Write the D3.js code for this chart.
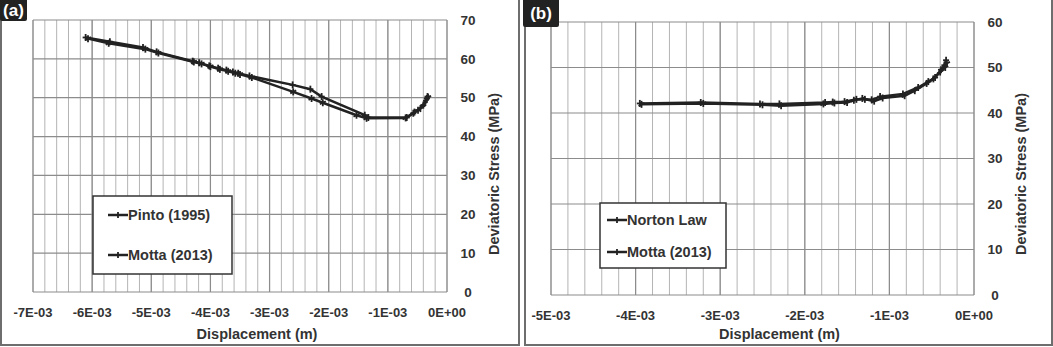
<!DOCTYPE html>
<html>
<head>
<meta charset="utf-8">
<title>Deviatoric stress vs displacement</title>
<script src="https://d3js.org/d3.v7.min.js"></script>
<style>
	body { margin: 0; background: #fff; }
	text { font-family: 'Liberation Sans', Arial, sans-serif; font-weight: bold; fill: #333; }
	.grid-minor { stroke: #b4b4b4; stroke-width: 1; }
	.grid-major { stroke: #8c8c8c; stroke-width: 1.2; }
	.series { fill: none; stroke: #222; stroke-width: 2.5; }
	.mark { stroke: #222; stroke-width: 1.8; }
</style>
</head>
<body>
<script>
	// panel (a): displacement in 1E-03 m, stress in MPa
	var pintoX = [-6.11,-5.70,-5.14,-4.91,-4.30,-4.19,-4.02,-3.87,-3.73,-3.62,-3.53,-3.34,-2.61,-2.31,-2.12,-1.39,-1.33,-0.68,-0.57,-0.49,-0.40,-0.34,-0.33];
	var pintoY = [65.5,64.4,62.9,61.8,59.4,59.0,58.2,57.6,57.1,56.6,56.3,55.6,53.3,52.2,50.3,45.5,44.9,44.9,46.0,46.8,48.1,49.8,50.3];
	var mottaAX = [-6.07,-5.72,-5.10,-4.88,-4.28,-4.15,-4.00,-3.84,-3.70,-3.58,-3.50,-3.30,-2.60,-2.29,-2.10,-1.53,-1.36,-0.70,-0.55,-0.45,-0.38,-0.35,-0.32];
	var mottaAY = [65.2,64.0,62.5,61.5,59.2,58.7,58.0,57.3,56.8,56.3,56.0,55.2,51.5,49.8,48.7,45.5,44.7,44.8,46.3,47.2,48.5,49.5,50.1];

	// panel (b)
	var nortonX = [-3.95,-3.23,-2.53,-2.30,-1.76,-1.67,-1.53,-1.39,-1.29,-1.21,-1.11,-0.84,-0.66,-0.54,-0.46,-0.39,-0.35,-0.33];
	var nortonY = [42.1,42.3,42.0,42.0,42.3,42.4,42.5,43.0,43.0,42.9,43.6,44.2,45.6,46.9,47.8,49.5,50.5,51.6];
	var mottaBX = [-3.93,-3.20,-2.50,-2.28,-1.78,-1.65,-1.50,-1.42,-1.32,-1.18,-1.08,-0.82,-0.70,-0.56,-0.48,-0.40,-0.34,-0.32];
	var mottaBY = [41.9,42.1,41.8,41.6,42.0,42.2,42.3,42.8,43.2,42.6,43.3,43.8,44.9,46.5,47.5,49.0,50.0,50.9];

	var xTicksA = [-7,-6,-5,-4,-3,-2,-1,0];
	var xLabelsA = ["-7E-03","-6E-03","-5E-03","-4E-03","-3E-03","-2E-03","-1E-03","0E+00"];
	var yTicksA = [0,10,20,30,40,50,60,70];
	var xTicksB = [-5,-4,-3,-2,-1,0];
	var xLabelsB = ["-5E-03","-4E-03","-3E-03","-2E-03","-1E-03","0E+00"];
	var yTicksB = [0,10,20,30,40,50,60];

	var svg = d3.select("body").append("svg")
		.attr("width", 1053)
		.attr("height", 347);

	function zip(xs, ys) {
		return xs.map(function(d, i) { return [d, ys[i]]; });
	}

	function drawPanel(p) {
		var x = d3.scaleLinear().domain(p.xDomain).range([p.left, p.right]);
		var y = d3.scaleLinear().domain(p.yDomain).range([p.bottom, p.top]);
		var g = svg.append("g");

		// panel frame
		g.append("rect")
			.attr("x", p.frame[0]).attr("y", p.frame[1])
			.attr("width", p.frame[2]).attr("height", p.frame[3])
			.attr("fill", "none").attr("stroke", "#6e6e6e").attr("stroke-width", 2);

		// minor vertical grid (every 2E-04)
		var minor = d3.range(p.xDomain[0], p.xDomain[1] + 0.001, 0.2);
		g.append("g").selectAll("line").data(minor).enter().append("line")
			.attr("class", "grid-minor")
			.attr("x1", function(d) { return x(d); }).attr("x2", function(d) { return x(d); })
			.attr("y1", p.top).attr("y2", p.bottom);

		g.append("g").selectAll("line").data(p.xTicks).enter().append("line")
			.attr("class", "grid-major")
			.attr("x1", function(d) { return x(d); }).attr("x2", function(d) { return x(d); })
			.attr("y1", p.top).attr("y2", p.bottom);

		g.append("g").selectAll("line").data(p.yTicks).enter().append("line")
			.attr("class", "grid-major")
			.attr("x1", p.left).attr("x2", p.right)
			.attr("y1", function(d) { return y(d); }).attr("y2", function(d) { return y(d); });

		// x tick labels
		g.append("g").selectAll("text").data(p.xTicks).enter().append("text")
			.attr("x", function(d) { return x(d); })
			.attr("y", p.bottom + 25)
			.attr("text-anchor", "middle")
			.style("font-size", "13px")
			.text(function(d, i) { return p.xLabels[i]; });

		// y tick labels on the right
		g.append("g").selectAll("text").data(p.yTicks).enter().append("text")
			.attr("x", p.right + 21)
			.attr("y", function(d) { return y(d); })
			.attr("dy", "0.35em")
			.attr("text-anchor", "middle")
			.style("font-size", "13.5px")
			.text(function(d) { return d; });

		g.append("text")
			.attr("x", (p.left + p.right) / 2 + 17)
			.attr("y", 339)
			.attr("text-anchor", "middle")
			.style("font-size", "14.5px")
			.text("Displacement (m)");

		g.append("text")
			.attr("transform", "translate(" + (p.right + 52) + "," + 174 + ") rotate(-90)")
			.attr("text-anchor", "middle")
			.style("font-size", "14.5px")
			.text("Deviatoric Stress (MPa)");

		// series
		var line = d3.line().x(function(d) { return x(d[0]); }).y(function(d) { return y(d[1]); });
		p.series.forEach(function(s) {
			var pts = zip(s.x, s.y);
			g.append("path").attr("class", "series").attr("d", line(pts));
			var m = g.append("g").selectAll("g").data(pts).enter().append("g")
				.attr("transform", function(d) { return "translate(" + x(d[0]) + "," + y(d[1]) + ")"; });
			m.append("line").attr("class", "mark").attr("x1", 0).attr("x2", 0).attr("y1", -3.5).attr("y2", 3.5);
			m.append("line").attr("class", "mark").attr("x1", -3).attr("x2", 3).attr("y1", s.tilt).attr("y2", -s.tilt);
		});

		// legend
		var L = p.legend;
		g.append("rect")
			.attr("x", L.x).attr("y", L.y).attr("width", L.w).attr("height", L.h)
			.attr("fill", "#fff").attr("stroke", "#333").attr("stroke-width", 1.5);
		p.series.forEach(function(s, i) {
			var ly = L.rows[i];
			g.append("line").attr("class", "series")
				.attr("x1", L.lx).attr("x2", L.lx + 20).attr("y1", ly).attr("y2", ly);
			g.append("line").attr("class", "mark")
				.attr("x1", L.lx + 10).attr("x2", L.lx + 10).attr("y1", ly - 3).attr("y2", ly + 3);
			g.append("text")
				.attr("x", L.lx + 20).attr("y", ly).attr("dy", "0.36em")
				.style("font-size", "14.5px")
				.text(s.name);
		});

		// panel label
		g.append("rect")
			.attr("x", p.tag[0]).attr("y", p.tag[1]).attr("width", p.tag[2]).attr("height", p.tag[3])
			.attr("rx", 2).attr("fill", "#222");
		g.append("text")
			.attr("x", p.tag[0] + p.tag[2] / 2).attr("y", p.tag[1] + p.tag[3] / 2)
			.attr("dy", "0.36em").attr("text-anchor", "middle")
			.style("font-size", "17px").style("fill", "#fff")
			.text(p.label);
	}

	drawPanel({
		label: "(a)",
		tag: [0, -2, 27, 23],
		frame: [1, -2, 518, 347],
		left: 33, right: 447, top: 20, bottom: 292,
		xDomain: [-7, 0], yDomain: [0, 70],
		xTicks: xTicksA, xLabels: xLabelsA, yTicks: yTicksA,
		series: [
			{ name: "Pinto (1995)", x: pintoX, y: pintoY, tilt: 0 },
			{ name: "Motta (2013)", x: mottaAX, y: mottaAY, tilt: 1.5 }
		],
		legend: { x: 93, y: 196, w: 139, h: 78, lx: 108, rows: [215, 255] }
	});

	drawPanel({
		label: "(b)",
		tag: [523, -2, 36, 29],
		frame: [525, -2, 527, 347],
		left: 551, right: 974, top: 22, bottom: 295,
		xDomain: [-5, 0], yDomain: [0, 60],
		xTicks: xTicksB, xLabels: xLabelsB, yTicks: yTicksB,
		series: [
			{ name: "Norton Law", x: nortonX, y: nortonY, tilt: 0 },
			{ name: "Motta (2013)", x: mottaBX, y: mottaBY, tilt: 1.5 }
		],
		legend: { x: 600, y: 203, w: 126, h: 65, lx: 607, rows: [220, 252] }
	});
</script>
</body>
</html>
